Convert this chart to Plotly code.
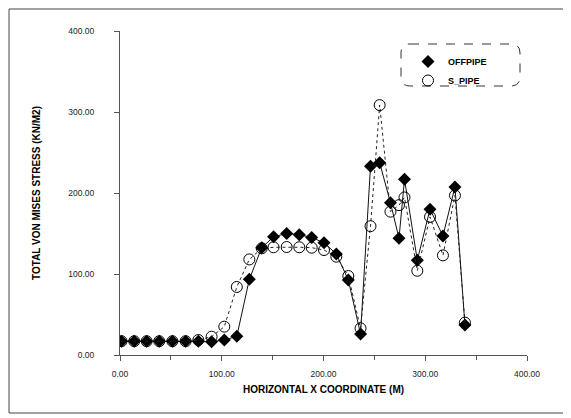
import plotly.graph_objects as go

# ---- data ----
x_coord = [1.5, 14, 26.2, 38.6, 51.5, 64.5, 77, 90, 102.5, 114.8,
           127.1, 139.3, 150.9, 163.8, 176.2, 188.4, 200.5, 212.6, 224.4, 236.4,
           246.2, 255.2, 265.8, 274.2, 279.6, 292.2, 304.7, 317.4, 329.2, 339]
offpipe = [17, 17, 17, 17, 17, 17, 17, 16.5, 18.5, 23,
           93.5, 132.5, 146, 150, 148.5, 145, 138.6, 124.7, 92.6, 26,
           233, 237.4, 188, 144, 217, 117, 180, 147, 207.5, 37]
s_pipe = [17, 17, 17, 17, 17, 17, 18.5, 22.6, 35, 84,
          118, 131.7, 133, 133.3, 133, 132.5, 129.6, 121.4, 97.5, 33,
          159, 308.5, 177, 185, 194.5, 104, 170.5, 123, 197, 40]
x_ticks = [0, 100, 200, 300, 400]
y_ticks = [0, 100, 200, 300, 400]
series_names = ["OFFPIPE", "S_PIPE"]

# page is offset by the default 8px body margin
OFF = 8
W, H = 571 - OFF, 418 - OFF
# plot area in page pixels: left 120, right 527, top 31, bottom 355
L = 120 - OFF
T = 31 - OFF
R = W - (527 - OFF)
B = H - (355 - OFF)
PW, PH = W - L - R, H - T - B


def px_x(p):
    return (p - OFF - L) / PW


def px_y(p):
    return (H - B - (p - OFF)) / PH


font_main = "Liberation Sans, Arial, sans-serif"

fig = go.Figure()
fig.add_trace(go.Scatter(
    x=x_coord, y=offpipe, mode="lines+markers", name=series_names[0],
    line=dict(color="#111111", width=1),
    marker=dict(symbol="diamond", size=10, color="#000000"),
    showlegend=False))
fig.add_trace(go.Scatter(
    x=x_coord, y=s_pipe, mode="lines+markers", name=series_names[1],
    line=dict(color="#222222", width=1, dash="dot"),
    marker=dict(symbol="circle-open", size=11, color="#000000",
                line=dict(width=1, color="#000000")),
    showlegend=False))
# legend entries (marker only, as in the reference)
fig.add_trace(go.Scatter(
    x=[None], y=[None], mode="markers", name=series_names[0],
    marker=dict(symbol="diamond", size=10, color="#000000")))
fig.add_trace(go.Scatter(
    x=[None], y=[None], mode="markers", name=series_names[1],
    marker=dict(symbol="circle-open", size=11, color="#000000",
                line=dict(width=1, color="#000000"))))

# rounded dashed legend box
bx0, bx1, by0, by1, rr = 401, 520, 44, 86, 9
rx, ry = rr / PW, rr / PH
X0, X1, Y0, Y1 = px_x(bx0), px_x(bx1), px_y(by1), px_y(by0)
path = (f"M {X0+rx},{Y1} L {X1-rx},{Y1} Q {X1},{Y1} {X1},{Y1-ry} "
        f"L {X1},{Y0+ry} Q {X1},{Y0} {X1-rx},{Y0} L {X0+rx},{Y0} "
        f"Q {X0},{Y0} {X0},{Y0+ry} L {X0},{Y1-ry} Q {X0},{Y1} {X0+rx},{Y1} Z")

fig.update_layout(
    width=W, height=H,
    margin=dict(l=L, r=R, t=T, b=B, autoexpand=False),
    paper_bgcolor="white", plot_bgcolor="white",
    font=dict(family=font_main, color="#111111", size=9),
    showlegend=True,
    legend=dict(x=px_x(408), y=px_y(47), xanchor="left", yanchor="top",
                bgcolor="rgba(0,0,0,0)", borderwidth=0,
                font=dict(family=font_main, size=9, color="#000000",
                          weight="bold"),
                itemwidth=30, tracegroupgap=2),
    shapes=[
        dict(type="path", xref="paper", yref="paper", path=path,
             line=dict(color="#333333", width=1, dash="dash")),
        dict(type="rect", xref="paper", yref="paper",
             x0=px_x(9), x1=px_x(566), y0=px_y(413), y1=px_y(9),
             line=dict(color="#444444", width=1)),
    ],
)

fig.update_xaxes(
    range=[0, 400], tickvals=x_ticks, tickformat=".2f",
    showgrid=False, zeroline=False,
    showline=True, linecolor="#555555", linewidth=1,
    ticks="outside", ticklen=5, tickcolor="#555555",
    ticklabelstandoff=6,
    minor=dict(dtick=50, ticks="outside", ticklen=4, tickcolor="#555555",
               showgrid=False),
    tickfont=dict(size=8.5, color="#222222"),
    title=dict(text="HORIZONTAL X COORDINATE (M)", standoff=7,
               font=dict(size=10, color="#000000", weight="bold")),
)
fig.update_yaxes(
    range=[0, 400], tickvals=y_ticks, tickformat=".2f",
    showgrid=False, zeroline=False,
    showline=True, linecolor="#555555", linewidth=1,
    ticks="outside", ticklen=5, tickcolor="#555555",
    ticklabelstandoff=18,
    tickfont=dict(size=8.5, color="#222222"),
    title=dict(text="TOTAL VON MISES STRESS (KN/M2)", standoff=25,
               font=dict(size=10, color="#000000", weight="bold")),
)

fig.write_html("out.html")
